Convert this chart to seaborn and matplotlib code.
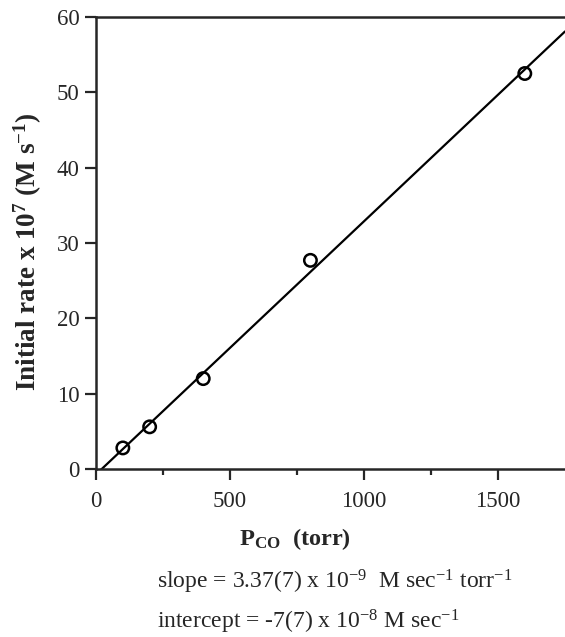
import numpy as np
import pandas as pd
import matplotlib
matplotlib.use("Agg")
import matplotlib.pyplot as plt
import seaborn as sns

sns.set_style("ticks")
plt.rcParams["font.family"] = ["Liberation Serif", "DejaVu Serif"]
plt.rcParams["mathtext.fontset"] = "custom"
plt.rcParams["mathtext.rm"] = "Liberation Serif"
plt.rcParams["mathtext.bf"] = "Liberation Serif:bold"
plt.rcParams["mathtext.default"] = "regular"

# CO pressure (torr) vs initial rate (x 10^7 M s^-1)
p_co = [100, 200, 400, 800, 1600]
rate = [2.8, 5.6, 12.0, 27.7, 52.5]
data = pd.DataFrame({"P_CO": p_co, "rate": rate})

fig = plt.figure(figsize=(5.65, 6.37), dpi=100)
ax = fig.add_axes([0.170, 0.2637, 0.830, 0.7096])
ax.set_xlim(0, 1750)
ax.set_ylim(0, 60)

# least squares line across the whole x range
sns.regplot(data=data, x="P_CO", y="rate", ci=None, truncate=False, scatter=False,
            line_kws={"color": "black", "lw": 1.6}, ax=ax)
sns.scatterplot(data=data, x="P_CO", y="rate", marker="o", s=80,
                facecolors="none", edgecolor="black", linewidth=1.8, zorder=3, ax=ax)
ax.set_xlim(0, 1750)
ax.set_ylim(0, 60)

for side in ["left", "bottom", "top"]:
    ax.spines[side].set_linewidth(1.8)
ax.spines["right"].set_visible(False)

ax.set_xticks([0, 500, 1000, 1500])
ax.set_xticks([250, 750, 1250], minor=True)
ax.set_yticks(range(0, 61, 10))
ax.tick_params(axis="both", which="major", length=8, width=1.6, labelsize=16.5, pad=4)
ax.tick_params(axis="x", which="major", pad=8)
ax.tick_params(axis="x", which="minor", length=4, width=1.6)

ax.set_xlabel(r"P$_{CO}$  (torr)", fontsize=17.5, fontweight="bold")
ax.xaxis.set_label_coords(0.424, -0.127)
ax.set_ylabel(r"Initial rate x 10$^{7}$ (M s$^{-1}$)", fontsize=19.5, fontweight="bold")
ax.yaxis.set_label_coords(-0.11, 0.48)

fig.text(0.278, 0.076, r"slope = 3.37(7) x 10$^{-9}$  M sec$^{-1}$ torr$^{-1}$",
         fontsize=17, va="baseline")
fig.text(0.278, 0.014, r"intercept = -7(7) x 10$^{-8}$ M sec$^{-1}$",
         fontsize=17, va="baseline")

fig.savefig("out.png", dpi=100)
